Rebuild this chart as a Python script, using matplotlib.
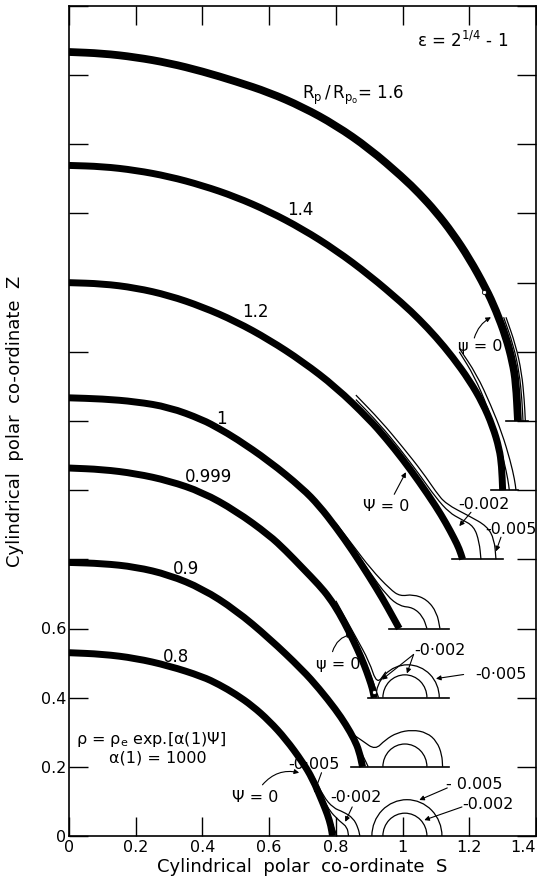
import matplotlib
matplotlib.use("Agg")
import matplotlib.pyplot as plt
from matplotlib.patches import Arc, PathPatch
from matplotlib.path import Path
import numpy as np

plt.rcParams['font.family'] = ['DejaVu Sans']
plt.rcParams['mathtext.default'] = 'regular'

# ---------------- data ----------------
ratio_labels = ['0.8', '0.9', '0.999', '1', '1.2', '1.4', '1.6']
baselines = [0.0, 0.2, 0.4, 0.6, 0.8, 1.0, 1.2]

# bubble surfaces: S and Z above each curve's own baseline
s_08 = [0, 0.1, 0.2, 0.3, 0.4, 0.45, 0.5, 0.55, 0.6, 0.65, 0.7, 0.73, 0.76, 0.775, 0.785, 0.79]
z_08 = [0.530, 0.526, 0.514, 0.492, 0.461, 0.438, 0.410, 0.376, 0.333, 0.280, 0.214, 0.166, 0.098, 0.062, 0.03, 0]

s_09 = [0, 0.1, 0.2, 0.3, 0.4, 0.5, 0.6, 0.7, 0.75, 0.8, 0.83, 0.855, 0.87, 0.88]
z_09 = [0.591, 0.588, 0.578, 0.555, 0.515, 0.453, 0.372, 0.280, 0.226, 0.165, 0.122, 0.08, 0.045, 0]

s_0999 = [0, 0.1, 0.2, 0.3, 0.4, 0.5, 0.6, 0.65, 0.7, 0.75, 0.78, 0.81, 0.84, 0.865, 0.885, 0.90, 0.91, 0.915]
z_0999 = [0.664, 0.660, 0.648, 0.627, 0.594, 0.540, 0.470, 0.425, 0.375, 0.325, 0.29, 0.245, 0.19, 0.14, 0.095, 0.055, 0.025, 0]

s_10 = [0, 0.1, 0.2, 0.3, 0.4, 0.45, 0.5, 0.6, 0.7, 0.75, 0.8, 0.85, 0.9, 0.94, 0.97, 0.99]
z_10 = [0.667, 0.664, 0.656, 0.640, 0.604, 0.578, 0.550, 0.484, 0.405, 0.355, 0.293, 0.225, 0.150, 0.087, 0.035, 0]

s_12 = [0, 0.1, 0.2, 0.3, 0.4, 0.5, 0.6, 0.7, 0.8, 0.9, 0.95, 1.0, 1.05, 1.1, 1.13, 1.155, 1.17, 1.18]
z_12 = [0.800, 0.797, 0.785, 0.763, 0.730, 0.688, 0.635, 0.572, 0.498, 0.405, 0.350, 0.290, 0.224, 0.153, 0.105, 0.06, 0.03, 0]

s_14 = [0, 0.1, 0.2, 0.3, 0.4, 0.5, 0.6, 0.7, 0.8, 0.9, 1.0, 1.05, 1.1, 1.15, 1.2, 1.24, 1.27, 1.29, 1.297, 1.30]
z_14 = [0.939, 0.936, 0.925, 0.907, 0.881, 0.848, 0.806, 0.755, 0.694, 0.622, 0.540, 0.494, 0.443, 0.385, 0.318, 0.252, 0.185, 0.12, 0.07, 0]

s_16 = [0, 0.1, 0.2, 0.3, 0.4, 0.5, 0.6, 0.7, 0.8, 0.9, 1.0, 1.05, 1.1, 1.15, 1.2, 1.25, 1.28, 1.31, 1.33, 1.34, 1.346]
z_16 = [1.067, 1.063, 1.052, 1.035, 1.011, 0.982, 0.950, 0.908, 0.855, 0.788, 0.705, 0.658, 0.605, 0.543, 0.470, 0.383, 0.320, 0.243, 0.170, 0.110, 0]

surfaces_s = [s_08, s_09, s_0999, s_10, s_12, s_14, s_16]
surfaces_z = [z_08, z_09, z_0999, z_10, z_12, z_14, z_16]

# stream-function contours (S, Z above baseline)
c16_a_s = [1.303, 1.332, 1.350, 1.358, 1.361]
c16_a_z = [0.30, 0.22, 0.14, 0.06, 0]
c16_b_s = [1.310, 1.339, 1.357, 1.365, 1.368]
c16_b_z = [0.30, 0.22, 0.14, 0.06, 0]

c14_a_s = [1.17, 1.215, 1.255, 1.283, 1.305, 1.316, 1.32]
c14_a_z = [0.40, 0.33, 0.24, 0.16, 0.08, 0.03, 0]
c14_b_s = [1.17, 1.222, 1.265, 1.298, 1.323, 1.336, 1.34]
c14_b_z = [0.41, 0.335, 0.245, 0.165, 0.085, 0.03, 0]

c12_a_s = [0.86, 0.93, 0.99, 1.05, 1.10, 1.14, 1.175, 1.214, 1.23, 1.235]
c12_a_z = [0.462, 0.392, 0.322, 0.246, 0.178, 0.135, 0.116, 0.096, 0.05, 0]
c12_b_s = [0.86, 0.935, 1.0, 1.06, 1.10, 1.13, 1.20, 1.253, 1.275, 1.28]
c12_b_z = [0.475, 0.40, 0.325, 0.252, 0.195, 0.16, 0.125, 0.096, 0.058, 0]

c10_a_s = [0.80, 0.85, 0.90, 0.954, 0.993, 1.031, 1.061, 1.073]
c10_a_z = [0.30, 0.235, 0.165, 0.093, 0.064, 0.061, 0.035, 0]
c10_b_s = [0.80, 0.85, 0.905, 0.963, 0.993, 1.031, 1.073, 1.103, 1.112]
c10_b_z = [0.305, 0.242, 0.172, 0.113, 0.093, 0.099, 0.084, 0.046, 0]

c0999_a_s = [0.78, 0.83, 0.865, 0.89, 0.912, 0.928]
c0999_a_z = [0.30, 0.225, 0.155, 0.10, 0.045, 0]
c0999_b_s = [0.80, 0.86, 0.90, 0.923, 0.95]
c0999_b_z = [0.28, 0.175, 0.105, 0.038, 0.075]

c09_a_s = [0.76, 0.82, 0.86, 0.885, 0.897]
c09_a_z = [0.205, 0.13, 0.07, 0.025, 0]
c09_b_s = [0.77, 0.81, 0.843, 0.88, 0.918, 0.948, 0.984, 1.029, 1.073, 1.103, 1.118, 1.12]
c09_b_z = [0.205, 0.15, 0.099, 0.075, 0.049, 0.078, 0.099, 0.107, 0.099, 0.073, 0.035, 0]

c08_a_s = [0.68, 0.73, 0.765, 0.79, 0.803]
c08_a_z = [0.245, 0.172, 0.098, 0.035, 0]
c08_b_s = [0.69, 0.73, 0.762, 0.792, 0.822, 0.852, 0.867, 0.872]
c08_b_z = [0.235, 0.18, 0.115, 0.081, 0.070, 0.052, 0.023, 0]
c08_c_s = [0.69, 0.73, 0.774, 0.813, 0.834, 0.838]
c08_c_z = [0.232, 0.175, 0.08, 0.041, 0.026, 0]

contour_case = [6, 6, 5, 5, 4, 4, 3, 3, 2, 2, 1, 1, 0, 0, 0]
contour_s = [c16_a_s, c16_b_s, c14_a_s, c14_b_s, c12_a_s, c12_b_s, c10_a_s, c10_b_s,
             c0999_a_s, c0999_b_s, c09_a_s, c09_b_s, c08_a_s, c08_b_s, c08_c_s]
contour_z = [c16_a_z, c16_b_z, c14_a_z, c14_b_z, c12_a_z, c12_b_z, c10_a_z, c10_b_z,
             c0999_a_z, c0999_b_z, c09_a_z, c09_b_z, c08_a_z, c08_b_z, c08_c_z]

# closed semicircular contours (vortex rings): case index, centre S, radius
ring_case = [2, 2, 1, 0, 0]
ring_centre = [1.007, 1.015, 1.007, 1.007, 1.013]
ring_radius = [0.066, 0.095, 0.066, 0.066, 0.105]

# baseline segments for the shifted cases
base_case = [1, 2, 3, 4, 5, 6]
base_from = [0.845, 0.895, 0.96, 1.148, 1.265, 1.31]
base_to = [1.14, 1.14, 1.14, 1.30, 1.345, 1.375]

x_ticks = [0, 0.2, 0.4, 0.6, 0.8, 1.0, 1.2, 1.4]
x_tick_labels = ['0', '0.2', '0.4', '0.6', '0.8', '1', '1.2', '1.4']
y_ticks = [0, 0.2, 0.4, 0.6, 0.8, 1.0, 1.2, 1.4, 1.6, 1.8, 2.0, 2.2, 2.4]
y_tick_labels = ['0', '0.2', '0.4', '0.6', '', '', '', '', '', '', '', '', '']

# ---------------- figure ----------------
W, H = 537, 885
fig = plt.figure(figsize=(W / 100, H / 100), dpi=100)
ax = fig.add_axes([69 / W, 49 / H, 467 / W, 830 / H])
ax.set_xlim(0, 1.4)
ax.set_ylim(0, 2.4)


def smooth_path(xs, ys):
    """Quadratic Bezier path that uses the read points as control points."""
    pts = np.column_stack([xs, ys])
    verts = [pts[0]]
    codes = [Path.MOVETO]
    if len(pts) > 2:
        verts.append((pts[0] + pts[1]) / 2)
        codes.append(Path.LINETO)
        for i in range(1, len(pts) - 1):
            verts.append(pts[i])
            verts.append((pts[i] + pts[i + 1]) / 2)
            codes += [Path.CURVE3, Path.CURVE3]
    verts.append(pts[-1])
    codes.append(Path.LINETO)
    return Path(verts, codes)


def draw_line(xs, ys, lw, z):
    ax.add_patch(PathPatch(smooth_path(xs, ys), fill=False, edgecolor='k', lw=lw,
                           capstyle='butt', joinstyle='round', zorder=z))


for s, z, b in zip(surfaces_s, surfaces_z, baselines):
    lw = 5.6 if b == 1.2 else 5.0
    draw_line(s, np.asarray(z) + b, lw, 3)

for ci, s, z in zip(contour_case, contour_s, contour_z):
    draw_line(s, np.asarray(z) + baselines[ci], 0.9, 2)

for ci, c, r in zip(ring_case, ring_centre, ring_radius):
    ax.add_patch(Arc((c, baselines[ci]), 2 * r, 2 * r, theta1=0, theta2=180,
                     color='k', lw=0.9, zorder=2))

for ci, a, b in zip(base_case, base_from, base_to):
    ax.plot([a, b], [baselines[ci], baselines[ci]], color='k', lw=1.2, zorder=2)

# small open marks on the surfaces
ax.plot([1.245, 0.915], [1.574, 0.417], 'o', ms=3, mfc='white', mec='k', mew=0.6, zorder=4)

# ticks / frame
ax.set_xticks(x_ticks)
ax.set_xticklabels(x_tick_labels)
ax.set_yticks(y_ticks)
ax.set_yticklabels(y_tick_labels)
ax.tick_params(direction='in', length=14, width=1.0, top=True, right=True,
               labelsize=11.5, pad=3)
ax.tick_params(axis='y', pad=2)
ax.get_xticklabels()[-1].set_horizontalalignment('right')
for sp in ax.spines.values():
    sp.set_linewidth(1.2)

ax.set_xlabel('Cylindrical  polar  co-ordinate  S', fontsize=13, labelpad=2)
ax.set_ylabel('Cylindrical  polar  co-ordinate  Z', fontsize=13, labelpad=12)

# curve labels
fs = 12
ax.text(0.853, 2.142, r'$R_p\,/\,R_{p_o}$= 1.6', fontsize=fs, ha='center', va='center')
ax.text(0.693, 1.809, '1.4', fontsize=fs, ha='center', va='center')
ax.text(0.558, 1.516, '1.2', fontsize=fs, ha='center', va='center')
ax.text(0.456, 1.205, '1', fontsize=fs, ha='center', va='center')
ax.text(0.417, 1.038, '0.999', fontsize=fs, ha='center', va='center')
ax.text(0.352, 0.771, '0.9', fontsize=fs, ha='center', va='center')
ax.text(0.320, 0.518, '0.8', fontsize=fs, ha='center', va='center')

ax.text(1.18, 2.30, 'ε = 2$^{1/4}$ - 1', fontsize=fs, ha='center', va='center')
ax.text(0.246, 0.278, 'ρ = ρ$_e$ exp.[α(1)Ψ]', fontsize=11.5, ha='center', va='center')
ax.text(0.267, 0.226, 'α(1) = 1000', fontsize=11.5, ha='center', va='center')

# contour labels with arrows
def label(txt, pos, arrows, rad=0.0, size=11.5):
    ax.text(pos[0], pos[1], txt, fontsize=size, ha='center', va='center')
    for (start, tip) in arrows:
        ax.annotate('', xy=tip, xytext=start,
                    arrowprops=dict(arrowstyle='-|>', color='k', lw=0.8,
                                    mutation_scale=7, shrinkA=0, shrinkB=0,
                                    connectionstyle='arc3,rad=%g' % rad))

label('ψ = 0', (1.232, 1.414), [((1.215, 1.44), (1.265, 1.50))], rad=-0.2)
label('Ψ = 0', (0.95, 0.954), [((0.975, 0.988), (1.01, 1.052))])
label('-0.002', (1.245, 0.959), [((1.205, 0.936), (1.17, 0.896))])
label('-0.005', (1.326, 0.887), [((1.295, 0.864), (1.28, 0.823))])
label('ψ = 0', (0.808, 0.496), [((0.79, 0.533), (0.848, 0.583))], rad=-0.3)
label('-0·002', (1.112, 0.536), [((1.033, 0.525), (0.938, 0.452)),
                                 ((1.033, 0.525), (1.013, 0.47))])
label('-0·005', (1.296, 0.467), [((1.183, 0.467), (1.10, 0.455))])
label('Ψ = 0', (0.557, 0.110), [((0.58, 0.148), (0.69, 0.183))], rad=-0.3)
label('-0·005', (0.735, 0.206), [((0.757, 0.183), (0.735, 0.125))])
label('-0·002', (0.861, 0.110), [((0.849, 0.084), (0.828, 0.041))])
label('- 0.005', (1.214, 0.148), [((1.134, 0.139), (1.05, 0.104))])
label('-0.002', (1.257, 0.090), [((1.178, 0.084), (1.065, 0.046))])

fig.savefig('out.png', dpi=100)
